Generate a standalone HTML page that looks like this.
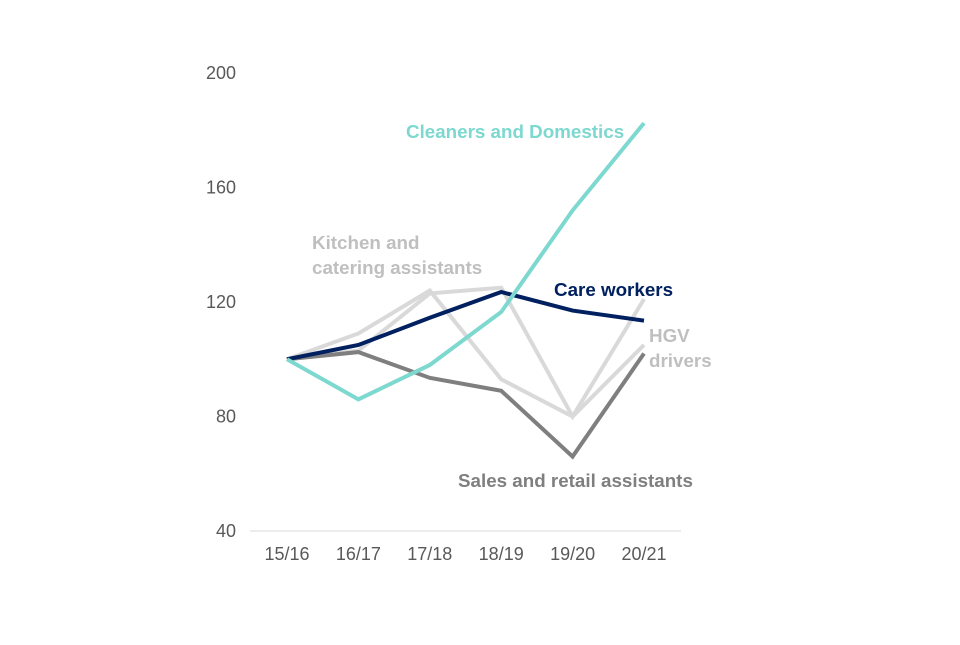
<!DOCTYPE html>
<html><head><meta charset="utf-8"><style>
body{margin:0;background:#fff}
svg text{font-family:"Liberation Sans",Arial,sans-serif}
</style></head><body>
<svg id="chart" width="960" height="640"></svg>
<script>
const categories=["15/16","16/17","17/18","18/19","19/20","20/21"];
const yTicks=[40,80,120,160,200];
const kitchen=[100,109,124,93,80,105];
const hgv=[100,103,123,125,80,121];
const sales=[100,102.5,93.5,89,66,102];
const care=[100,105,114.5,123.5,117,113.5];
const cleaners=[100,86,98,116.5,152,182.5];
const NS="http://www.w3.org/2000/svg";
const svg=document.getElementById('chart');
const x=i=>287+i*71.4;
const y=v=>531-(v-40)*(458/160);
function mk(t,a,p){const e=document.createElementNS(NS,t);for(const k in a)e.setAttribute(k,a[k]);(p||svg).appendChild(e);return e;}
const ax=mk('line',{x1:250,x2:681,y1:531,y2:531,stroke:'#d9d9d9','stroke-width':1});


yTicks.forEach(t=>{const e=mk('text',{x:236,y:y(t)+6,'text-anchor':'end','font-size':18,fill:'#595959'});e.textContent=t;

});
categories.forEach((c,i)=>{const e=mk('text',{x:x(i),y:560,'text-anchor':'middle','font-size':18,fill:'#595959'});e.textContent=c;

});
function line(d,col,name){const p=mk('polyline',{points:d.map((v,i)=>x(i)+','+y(v)).join(' '),fill:'none',stroke:col,'stroke-width':4,'stroke-linejoin':'miter'});

}
line(kitchen,'#d9d9d9','kitchen-line');
line(hgv,'#d9d9d9','hgv-line');
line(sales,'#7f7f7f','sales-line');
line(care,'#002060','care-line');
line(cleaners,'#7dd8cf','cleaners-line');
function lbl(lines,xx,yy,col,name){lines.forEach((s,k)=>{const e=mk('text',{x:xx,y:yy+k*25,'font-size':18.8,'font-weight':'bold',fill:col});e.textContent=s;

});}
lbl(['Cleaners and Domestics'],406,138,'#7dd8cf','cleaners-label');
lbl(['Kitchen and','catering assistants'],312,249,'#bfbfbf','kitchen-label');
lbl(['Care workers'],554,296,'#002060','care-label');
lbl(['HGV','drivers'],649,342,'#bfbfbf','hgv-label');
lbl(['Sales and retail assistants'],458,487,'#7f7f7f','sales-label');
</script>
</body></html>
